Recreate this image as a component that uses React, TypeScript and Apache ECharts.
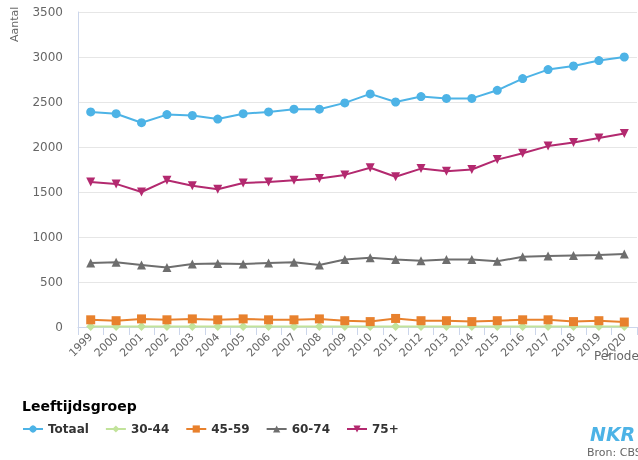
import React, { useEffect, useRef } from "react";
import * as echarts from "echarts";

const years = ["1999","2000","2001","2002","2003","2004","2005","2006","2007","2008","2009","2010","2011","2012","2013","2014","2015","2016","2017","2018","2019","2020"];
const totaal = [2390,2370,2270,2360,2350,2310,2370,2390,2420,2420,2490,2590,2500,2560,2540,2540,2630,2760,2860,2900,2960,3000];
const g3044 = [5,5,5,5,5,5,5,5,5,5,5,5,5,5,5,5,5,5,5,5,5,5];
const g4559 = [80,70,90,80,90,80,90,80,80,90,70,60,95,70,70,60,70,80,80,60,70,55];
const g6074 = [710,720,690,660,700,705,700,710,720,690,750,770,750,735,750,750,730,780,790,795,800,810];
const g75 = [1610,1590,1500,1630,1570,1530,1600,1610,1630,1650,1690,1770,1670,1760,1730,1750,1860,1930,2010,2050,2100,2150];
const yTicks = [0, 500, 1000, 1500, 2000, 2500, 3000, 3500];

const FONT = "'DejaVu Sans', sans-serif";

export default function App() {
  const ref = useRef<HTMLDivElement>(null);
  useEffect(() => {
    const chart = echarts.init(ref.current!, undefined, { renderer: "svg" });
    const mk = (name: string, data: number[], color: string, symbol: string, size: number, rot = 0) => ({
      name,
      type: "line",
      data,
      symbol,
      symbolSize: size,
      symbolRotate: rot,
      itemStyle: { color },
      lineStyle: { color, width: 2 },
      emphasis: { disabled: true },
    });
    chart.setOption({
      animation: false,
      grid: { left: 78, right: 1, top: 12, bottom: 133 },
      xAxis: {
        type: "category",
        data: years,
        boundaryGap: true,
        axisLine: { lineStyle: { color: "#ccd6eb" } },
        axisTick: { show: true, lineStyle: { color: "#ccd6eb" }, length: 8 },
        axisLabel: { rotate: 45, color: "#666", fontSize: 11, fontFamily: FONT, margin: 8, interval: 0 },
      },
      yAxis: {
        type: "value",
        min: yTicks[0],
        max: yTicks[yTicks.length - 1],
        interval: 500,
        axisLine: { show: true, lineStyle: { color: "#ccd6eb" } },
        splitLine: { lineStyle: { color: "#e6e6e6" } },
        axisTick: { show: false },
        axisLabel: { color: "#666", fontSize: 12, fontFamily: FONT, margin: 15, formatter: (v: number) => String(v) },
      },
      legend: {
        left: 17,
        top: 418,
        itemWidth: 20,
        itemHeight: 9,
        itemGap: 16,
        textStyle: { color: "#333", fontSize: 12, fontWeight: "bold", fontFamily: FONT },
        data: ["Totaal", "30-44", "45-59", "60-74", "75+"],
      },
      graphic: [
        { type: "text", left: 22, top: 399, style: { text: "Leeftijdsgroep", fontSize: 14, fontWeight: "bold", fill: "#000", fontFamily: FONT } },
        { type: "text", x: 9, y: 42, rotation: Math.PI / 2, style: { text: "Aantal", fontSize: 11, fill: "#666", fontFamily: FONT } },
        { type: "text", left: 594, top: 350, style: { text: "Periode", fontSize: 12, fill: "#666", fontFamily: FONT } },
        { type: "text", left: 590, top: 424, style: { text: "NKR", fontSize: 19, fontWeight: "bold", fontStyle: "italic", fill: "#4db3e6", fontFamily: FONT } },
        { type: "text", left: 587, top: 447, style: { text: "Bron: CBS", fontSize: 11, fill: "#666", fontFamily: FONT } },
      ],
      series: [
        mk("Totaal", totaal, "#4db3e6", "circle", 9),
        mk("30-44", g3044, "#c2e39b", "diamond", 9),
        mk("45-59", g4559, "#e8812d", "rect", 9),
        mk("60-74", g6074, "#6e6e6e", "triangle", 9),
        mk("75+", g75, "#b3296f", "triangle", 9, 180),
      ],
    });
    return () => chart.dispose();
  }, []);
  return <div ref={ref} style={{ position: "fixed", left: 0, top: 0, width: 638, height: 460 }} />;
}
